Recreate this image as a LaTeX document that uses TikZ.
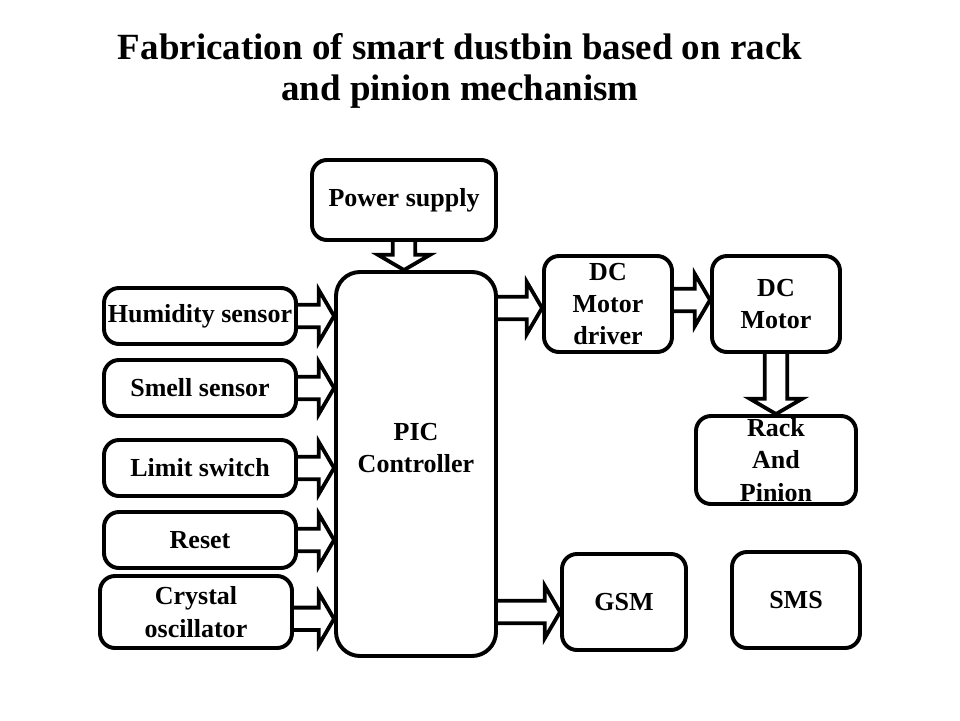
\documentclass[tikz,border=0pt]{standalone}
\usepackage{fontspec}
\setmainfont{Liberation Serif}
\usetikzlibrary{calc,backgrounds}

\begin{document}
\begin{tikzpicture}[font=\bfseries\fontsize{18.5}{23}\selectfont,
 blk/.style={draw,line width=2.8pt,rounded corners=0.375cm,fill=white,align=center,inner sep=1pt,minimum width=4.8cm,minimum height=1.4cm},
 fat/.style={draw,line width=2.7pt,line join=miter,
  to path={($(\tikztotarget)!0.38cm!(\tikztostart)$) coordinate (fh)
   ($(\tikztostart)!0.28cm!90:(\tikztotarget)$) -- ($(fh)!0.28cm!90:(\tikztotarget)$)
   -- ($(fh)!0.65cm!90:(\tikztotarget)$) -- (\tikztotarget)
   -- ($(fh)!0.65cm!-90:(\tikztotarget)$) -- ($(fh)!0.28cm!-90:(\tikztotarget)$)
   -- ($(\tikztostart)!0.28cm!-90:(\tikztotarget)$)}}]
\useasboundingbox (0,0) rectangle (24,18);
\node[font=\bfseries\fontsize{26.3}{29.3}\selectfont,align=center] (title) at (11.5,16.22) {Fabrication of smart dustbin based on rack\\and pinion mechanism};
% boxes
\node[blk,minimum width=4.6cm,minimum height=2cm] (power) at (10.1,13) {Power supply};
\node[blk,rounded corners=0.6cm,minimum width=4cm,minimum height=9.6cm,label={[align=center,yshift=0.4cm]center:PIC\\Controller}] (pic) at (10.4,6.4) {};
\node[blk] (hum) at (5,10.1) {Humidity sensor};
\node[blk] (smell) at (5,8.3) {Smell sensor};
\node[blk] (limit) at (5,6.3) {Limit switch};
\node[blk] (reset) at (5,4.5) {Reset};
\node[blk,minimum height=1.8cm] (crystal) at (4.9,2.7) {Crystal\\oscillator};
\node[blk,minimum width=3.2cm,minimum height=2.4cm] (driver) at (15.2,10.4) {DC\\Motor\\driver};
\node[blk,minimum width=3.2cm,minimum height=2.4cm] (motor) at (19.4,10.4) {DC\\Motor};
\node[blk,minimum width=4cm,minimum height=2.2cm] (rack) at (19.4,6.5) {Rack\\And\\Pinion};
\node[blk,minimum width=3.1cm,minimum height=2.4cm] (gsm) at (15.6,2.95) {GSM};
\node[blk,minimum width=3.2cm,minimum height=2.4cm] (sms) at (19.9,3) {SMS};
% block arrows
\begin{scope}[on background layer]
\foreach \n in {hum,smell,limit,reset}{\draw[fat] (\n.east) to (\n.east -| pic.west);}
\draw[fat] ([yshift=-0.17cm]crystal.east) to ([yshift=-0.17cm]crystal.east -| pic.west);
\draw[fat] (power.south) to (power.south |- pic.north);
\draw[fat] ([yshift=-0.1cm]driver.west -| pic.east) to ([yshift=-0.1cm]driver.west);
\draw[fat] ([yshift=0.1cm]driver.east) to ([yshift=0.1cm]motor.west);
\draw[fat] (motor.south) to (rack.north);
\draw[fat] ([yshift=-0.25cm]gsm.west -| pic.east) to ([yshift=-0.25cm]gsm.west);
\end{scope}
\end{tikzpicture}
\end{document}
